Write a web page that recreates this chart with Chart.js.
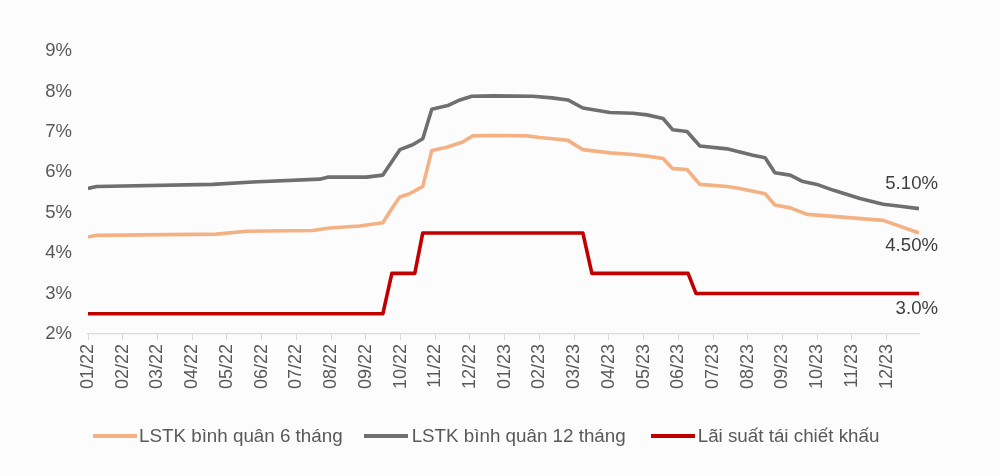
<!DOCTYPE html>
<html>
<head>
<meta charset="utf-8">
<script src="https://cdn.jsdelivr.net/npm/chart.js@4.4.1/dist/chart.umd.min.js"></script>
<style>
  html, body { margin: 0; padding: 0; background: #fcfcfc; }
  #wrap { position: relative; width: 1000px; height: 476px; }
  canvas { position: absolute; left: 0; top: 0; }
  #legend { position: absolute; left: 93px; top: 425px; display: flex; align-items: center;
            font-family: "Liberation Sans", Arial, sans-serif; font-size: 18.8px; color: #595959; white-space: nowrap; }
  .item { display: flex; align-items: center; }
  .swatch { width: 44px; height: 4px; }
</style>
</head>
<body>
<div id="wrap">
  <canvas id="c" width="1000" height="476"></canvas>
  <div id="legend"></div>
</div>
<script>
// Month tick labels (x value = months since 01/2022)
const monthLabels = ['01/22','02/22','03/22','04/22','05/22','06/22','07/22','08/22','09/22','10/22','11/22','12/22',
                     '01/23','02/23','03/23','04/23','05/23','06/23','07/23','08/23','09/23','10/23','11/23','12/23'];
const xEnd = 23.93;

const seriesNames = ['LSTK bình quân 6 tháng', 'LSTK bình quân 12 tháng', 'Lãi suất tái chiết khấu'];
const seriesColors = ['#F4B183', '#6F6F6F', '#C00000'];

// 6-month average deposit rate
const t6 = [0, 0.25, 3.70, 4.57, 6.47, 6.96, 7.82, 8.49, 8.78, 8.98, 9.26, 9.64, 9.90, 10.33, 10.79, 11.08, 11.66, 12.64,
            13.01, 13.39, 13.82, 14.25, 14.54, 15.03, 15.69, 16.10, 16.56, 16.84, 17.25, 17.62, 18.40, 18.77, 19.15,
            19.50, 19.78, 20.22, 20.71, 21.45, 22.90, 23.93];
const v6 = [4.40, 4.44, 4.47, 4.54, 4.56, 4.62, 4.67, 4.75, 5.14, 5.39, 5.47, 5.65, 6.54, 6.62, 6.75, 6.90, 6.91, 6.90,
            6.86, 6.83, 6.79, 6.56, 6.53, 6.48, 6.44, 6.40, 6.34, 6.09, 6.07, 5.70, 5.65, 5.60, 5.53,
            5.47, 5.19, 5.12, 4.96, 4.91, 4.81, 4.50];

// 12-month average deposit rate
const t12 = [0, 0.25, 3.59, 4.74, 6.67, 6.90, 8.02, 8.49, 8.98, 9.35, 9.64, 9.90, 10.36, 10.71, 11.05, 11.66, 12.81,
             13.36, 13.82, 14.25, 15.03, 15.69, 16.10, 16.56, 16.84, 17.25, 17.62, 18.40, 18.77, 19.15, 19.50,
             19.78, 20.22, 20.56, 20.99, 21.45, 22.23, 22.90, 23.39, 23.93];
const v12 = [5.60, 5.65, 5.70, 5.76, 5.83, 5.88, 5.88, 5.93, 6.56, 6.68, 6.83, 7.56, 7.65, 7.79, 7.88, 7.89, 7.88,
             7.84, 7.79, 7.59, 7.48, 7.46, 7.42, 7.33, 7.05, 7.01, 6.65, 6.58, 6.50, 6.42, 6.36,
             5.99, 5.93, 5.78, 5.70, 5.56, 5.35, 5.21, 5.16, 5.10];

// Discount rate
const tR = [0, 8.49, 8.75, 9.41, 9.64, 14.25, 14.51, 17.28, 17.51, 23.93];
const vR = [2.5, 2.5, 3.5, 3.5, 4.5, 4.5, 3.5, 3.5, 3.0, 3.0];

const endLabels = ['4.50%', '5.10%', '3.0%'];
const endLabelDy = [13, -25, 15];

const yTicks = [2, 3, 4, 5, 6, 7, 8, 9];

const pts = (t, v) => t.map((x, i) => ({ x: x, y: v[i] }));
const seriesData = [pts(t6, v6), pts(t12, v12), pts(tR, vR)];

const FONT = '"Liberation Sans", Arial, sans-serif';

const endLabelPlugin = {
  id: 'endLabels',
  afterDatasetsDraw(chart) {
    const ctx = chart.ctx;
    const xs = chart.scales.x, ys = chart.scales.y;
    ctx.save();
    ctx.font = '18.6px ' + FONT;
    ctx.fillStyle = '#404040';
    ctx.textAlign = 'right';
    ctx.textBaseline = 'middle';
    chart.data.datasets.forEach((ds, i) => {
      const last = ds.data[ds.data.length - 1];
      ctx.fillText(endLabels[i], xs.getPixelForValue(last.x) + 19, ys.getPixelForValue(last.y) + endLabelDy[i]);
    });
    ctx.restore();
  }
};

const chart = new Chart(document.getElementById('c'), {
  type: 'line',
  data: {
    datasets: seriesNames.map((n, i) => ({
      label: n,
      data: seriesData[i],
      borderColor: seriesColors[i],
      backgroundColor: seriesColors[i],
      borderWidth: 3.6,
      pointRadius: 0,
      tension: 0,
      fill: false,
      borderJoinStyle: 'round',
      borderCapStyle: 'butt'
    }))
  },
  options: {
    responsive: false,
    animation: false,
    layout: { padding: { left: 0, right: 81, top: 51, bottom: 82 } },
    plugins: { legend: { display: false }, tooltip: { enabled: false } },
    scales: {
      x: {
        type: 'linear',
        min: 0,
        max: xEnd,
        afterBuildTicks: s => { s.ticks = monthLabels.map((_, i) => ({ value: i })); },
        afterFit: s => { s.height = 60; },
        ticks: {
          autoSkip: false,
          minRotation: 90,
          maxRotation: 90,
          padding: 4,
          color: '#595959',
          font: { family: FONT, size: 18 },
          callback: v => monthLabels[v]
        },
        grid: { display: true, drawOnChartArea: false, drawTicks: true, tickLength: 6, color: '#D9D9D9', lineWidth: 1 },
        border: { display: true, color: '#D9D9D9', width: 1.3 }
      },
      y: {
        min: 2,
        max: 9,
        afterBuildTicks: s => { s.ticks = yTicks.map(v => ({ value: v })); },
        afterFit: s => { s.width = 88; },
        ticks: {
          padding: 8,
          color: '#595959',
          font: { family: FONT, size: 18.5 },
          callback: v => v + '%'
        },
        grid: { display: false },
        border: { display: false }
      }
    }
  },
  plugins: [endLabelPlugin]
});

// HTML legend built from the datasets
const lg = document.getElementById('legend');
const gaps = [0, 21, 25];
const swGap = [2, 4, 3];
chart.data.datasets.forEach((ds, i) => {
  const it = document.createElement('div');
  it.className = 'item';
  it.style.marginLeft = gaps[i] + 'px';
  const sw = document.createElement('div');
  sw.className = 'swatch';
  sw.style.background = ds.borderColor;
  sw.style.marginRight = swGap[i] + 'px';
  const tx = document.createElement('span');
  tx.textContent = ds.label;
  it.appendChild(sw); it.appendChild(tx);
  lg.appendChild(it);
});
</script>
</body>
</html>
